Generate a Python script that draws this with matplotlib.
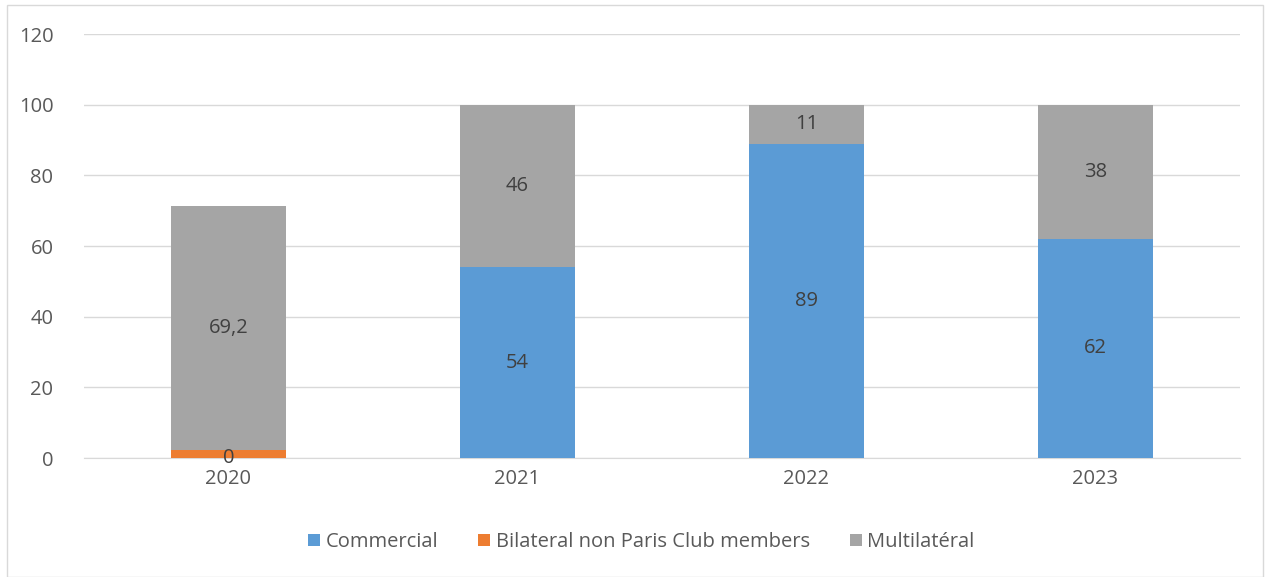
import matplotlib.pyplot as plt
import numpy as np

years = ["2020", "2021", "2022", "2023"]
commercial = [0, 54, 89, 62]
bilateral = [2.2, 0, 0, 0]
multilateral = [69.2, 46, 11, 38]

commercial_labels = ["", "54", "89", "62"]
bilateral_labels = ["0", "", "", ""]
multilateral_labels = ["69,2", "46", "11", "38"]

plt.rcParams['font.family'] = ['Open Sans', 'DejaVu Sans']

fig = plt.figure(figsize=(12.7, 5.77), dpi=100)
ax = fig.add_axes([84 / 1270, 1 - 458 / 577, (1240 - 84) / 1270, (458 - 34) / 577])

x = np.arange(len(years))
w = 0.4
blue = "#5B9BD5"
orange = "#ED7D31"
grey = "#A5A5A5"
fs = 14.5

b1 = ax.bar(x, commercial, w, color=blue, label="Commercial", zorder=3)
b2 = ax.bar(x, bilateral, w, bottom=commercial, color=orange,
            label="Bilateral non Paris Club members", zorder=3)
bottom2 = np.array(commercial) + np.array(bilateral)
b3 = ax.bar(x, multilateral, w, bottom=bottom2, color=grey, label="Multilatéral", zorder=3)

ax.bar_label(b1, labels=commercial_labels, label_type="center", fontsize=fs, color="#404040")
ax.bar_label(b2, labels=bilateral_labels, label_type="center", fontsize=fs, color="#404040",
             padding=-3)
ax.bar_label(b3, labels=multilateral_labels, label_type="center", fontsize=fs, color="#404040")

ax.set_ylim(0, 120)
ax.set_xlim(-0.5, 3.5)
ax.set_yticks(range(0, 121, 20))
ax.set_xticks(x)
ax.set_xticklabels(years)
ax.grid(axis="y", color="#D9D9D9", linewidth=1, zorder=0)
for s in ["top", "right", "left"]:
    ax.spines[s].set_visible(False)
ax.spines["bottom"].set_color("#D9D9D9")
ax.tick_params(length=0, labelsize=fs, labelcolor="#595959")
ax.tick_params(axis="y", pad=22)
ax.tick_params(axis="x", pad=8)

fig.legend(loc="center", bbox_to_anchor=(0.505, 1 - 542 / 577), ncol=3, frameon=False,
           fontsize=fs, labelcolor="#595959", handlelength=0.6, handleheight=0.6,
           handletextpad=0.25, columnspacing=2.0)

fig.patches.append(plt.Rectangle((7 / 1270, 0), 1 - 14 / 1270, 1 - 5 / 577,
                                 transform=fig.transFigure, fill=False,
                                 edgecolor="#D9D9D9", linewidth=1))

fig.savefig("out.png", dpi=100)
